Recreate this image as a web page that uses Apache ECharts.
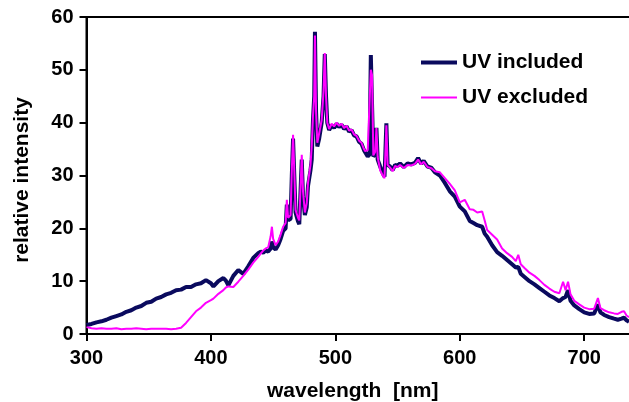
<!DOCTYPE html>
<html>
<head>
<meta charset="utf-8">
<script src="https://cdn.jsdelivr.net/npm/echarts@6/dist/echarts.min.js"></script>
<style>
  html, body { margin: 0; padding: 0; background: #fff; }
  #chart { width: 629px; height: 402px; }
</style>
</head>
<body>
<div id="chart"></div>
<script>
const wavelengths = [
  300, 304, 308, 312, 316, 320, 324, 328, 332, 336, 340, 344, 348, 352, 356, 360,
  364, 368, 372, 376, 380, 384, 388, 392, 396, 400, 402, 406, 410, 412, 414, 418,
  422, 426, 430, 434, 438, 440, 442, 444, 446, 448, 449, 450, 452, 454, 456, 458,
  460, 461, 462, 464, 465, 466, 467, 468, 470, 471, 473, 474, 475.5, 477, 478, 480,
  481, 482, 483, 483.6, 484.5, 485.5, 487, 489, 490.5, 491.5, 492.5, 493.5, 495, 497, 499, 501,
  503, 505, 507, 509, 511, 513, 515, 517, 519, 521, 523, 524, 526, 527.5, 528.5, 529.5,
  530.5, 532, 533, 534, 536, 538, 539.5, 541, 542, 544, 546, 548, 550, 552, 555, 558,
  561, 564, 566.5, 569, 571, 574, 577, 580, 584, 588, 592, 596, 600, 604, 608, 611,
  614, 618, 620, 622, 626, 630, 634, 638, 642, 645, 647, 649, 652, 656, 660, 664,
  668, 672, 676, 680, 683, 685, 687, 689, 692, 696, 700, 704, 708, 711, 713, 716,
  720, 724, 727, 730, 732, 734, 736
];
const uvIncluded = [
  1.7, 1.9, 2.2, 2.4, 2.7, 3.1, 3.4, 3.7, 4.2, 4.5, 5.0, 5.3, 5.9, 6.1, 6.7, 7.0,
  7.5, 7.8, 8.3, 8.4, 8.9, 8.9, 9.4, 9.6, 10.2, 9.6, 9.0, 10.0, 10.6, 10.1, 9.2, 11.0,
  12.1, 11.4, 12.8, 14.4, 15.3, 15.6, 15.4, 15.8, 15.6, 16.2, 17.5, 16.4, 16.0, 16.8, 18.0, 19.5,
  20.0, 24.5, 21.5, 21.8, 30.0, 37.0, 30.0, 23.0, 21.3, 20.8, 33.0, 26.0, 22.5, 24.0, 28.0, 31.0,
  33.0, 40.5, 45.0, 57.2, 42.0, 35.5, 37.0, 40.0, 45.0, 53.0, 45.0, 40.0, 38.6, 39.5, 39.0, 39.8,
  39.2, 39.6, 38.8, 39.3, 38.3, 38.6, 37.6, 37.4, 36.4, 36.0, 34.8, 34.5, 33.6, 34.0, 52.8, 52.5,
  33.6, 34.0, 39.0, 33.0, 31.7, 30.5, 29.8, 39.9, 32.0, 31.7, 31.0, 32.0, 31.8, 32.3, 31.6, 32.3,
  32.1, 32.4, 33.3, 32.2, 32.8, 31.7, 31.5, 30.6, 30.0, 28.6, 27.0, 26.0, 24.1, 23.2, 21.4, 21.0,
  20.6, 20.3, 19.0, 18.4, 16.8, 15.5, 14.8, 14.0, 13.2, 12.6, 12.7, 11.4, 10.8, 10.0, 9.4, 8.7,
  8.0, 7.3, 6.8, 6.2, 6.8, 7.0, 8.3, 6.3, 5.4, 4.7, 4.1, 3.8, 3.9, 5.6, 4.1, 3.6,
  3.2, 2.9, 2.7, 2.9, 3.1, 2.6, 2.3
];
const uvExcluded = [
  1.3, 1.1, 1.0, 1.1, 1.0, 1.0, 1.1, 0.9, 1.0, 1.0, 1.1, 1.0, 0.9, 1.0, 1.0, 1.0,
  1.0, 0.9, 1.0, 1.2, 2.1, 3.2, 4.3, 5.0, 5.9, 6.4, 6.7, 7.6, 8.3, 8.8, 9.0, 8.9,
  9.9, 11.0, 12.2, 13.5, 14.6, 15.2, 15.8, 16.2, 16.4, 18.5, 20.3, 18.0, 16.8, 17.5, 18.8, 20.3,
  21.0, 25.4, 22.0, 22.5, 31.0, 37.7, 31.0, 23.5, 22.0, 21.5, 33.9, 27.0, 23.0, 24.8, 28.6, 32.0,
  35.5, 41.2, 45.0, 56.5, 42.0, 36.2, 38.0, 40.5, 46.0, 53.2, 45.0, 40.0, 38.8, 39.8, 39.3, 40.0,
  39.4, 39.8, 39.0, 39.4, 38.5, 38.7, 37.8, 37.5, 36.6, 36.2, 35.0, 34.6, 34.8, 35.0, 50.0, 49.0,
  33.8, 34.5, 39.0, 33.5, 31.0, 30.0, 29.5, 39.5, 32.0, 31.5, 30.8, 31.8, 31.6, 32.0, 31.4, 32.0,
  31.9, 32.2, 33.0, 32.1, 32.6, 31.6, 31.4, 30.8, 30.6, 29.5, 28.4, 27.2, 24.9, 25.4, 23.6, 23.5,
  23.0, 23.2, 21.5, 19.7, 18.8, 17.9, 16.2, 15.3, 14.6, 13.8, 15.0, 13.2, 12.5, 11.6, 11.0, 10.2,
  9.3, 8.6, 8.0, 7.7, 9.9, 8.3, 9.9, 7.5, 6.3, 5.6, 5.0, 4.7, 4.8, 6.8, 4.9, 4.5,
  4.1, 3.9, 3.8, 4.2, 4.3, 3.5, 3.2
];

const font = "'Liberation Sans', Arial, sans-serif";

var chartDom = document.getElementById("chart");
var myChart = echarts.init(chartDom);
var option;

option = {
  animation: false,
  backgroundColor: "#fff",
  grid: {
    left: 86.5,
    right: -5,
    top: 17,
    bottom: 68,
    outerBoundsMode: "none",
    containLabel: false,
    show: true,
    borderColor: "#000",
    borderWidth: 2,
  },
  legend: {
    orient: "vertical",
    left: 421,
    top: 52,
    padding: 0,
    itemWidth: 36,
    itemHeight: 14,
    itemGap: 14,
    textStyle: { fontFamily: font, fontWeight: "bold", fontSize: 21, color: "#000" },
    data: [
      { name: "UV included", icon: "path://M0,0H36V4H0Z", itemStyle: { color: "#0a0a5e" } },
      { name: "UV excluded", icon: "path://M0,0H36V2H0Z", itemStyle: { color: "#ff00ff" } },
    ],
  },
  xAxis: {
    type: "value",
    min: 300,
    max: 740,
    interval: 100,
    name: "wavelength  [nm]",
    nameLocation: "middle",
    nameGap: 47,
    nameTextStyle: { fontFamily: font, fontWeight: "bold", fontSize: 21, color: "#000", padding: [0, 15, 0, 0] },
    axisLine: { lineStyle: { color: "#000", width: 2 } },
    axisTick: { length: 7, lineStyle: { color: "#000", width: 2 } },
    axisLabel: { margin: 14, fontFamily: font, fontWeight: "bold", fontSize: 20, color: "#000", showMaxLabel: false },
    splitLine: { show: false },
  },
  yAxis: {
    type: "value",
    min: 0,
    max: 60,
    interval: 10,
    name: "relative intensity",
    nameLocation: "middle",
    nameGap: 54,
    nameTextStyle: { fontFamily: font, fontWeight: "bold", fontSize: 21, color: "#000", padding: [0, 9, 0, 0] },
    axisLine: { lineStyle: { color: "#000", width: 2 } },
    axisTick: { length: 7, lineStyle: { color: "#000", width: 2 } },
    axisLabel: { margin: 13, fontFamily: font, fontWeight: "bold", fontSize: 20, color: "#000" },
    splitLine: { show: false },
  },
  series: [
    {
      name: "UV included",
      type: "line",
      symbol: "none",
      color: "#0a0a5e",
      lineStyle: { width: 4, color: "#0a0a5e" },
      data: wavelengths.map((w, i) => [w, uvIncluded[i]]),
    },
    {
      name: "UV excluded",
      type: "line",
      symbol: "none",
      color: "#ff00ff",
      lineStyle: { width: 2, color: "#ff00ff" },
      data: wavelengths.map((w, i) => [w, uvExcluded[i]]),
    },
  ],
};

option && myChart.setOption(option);
</script>
</body>
</html>
